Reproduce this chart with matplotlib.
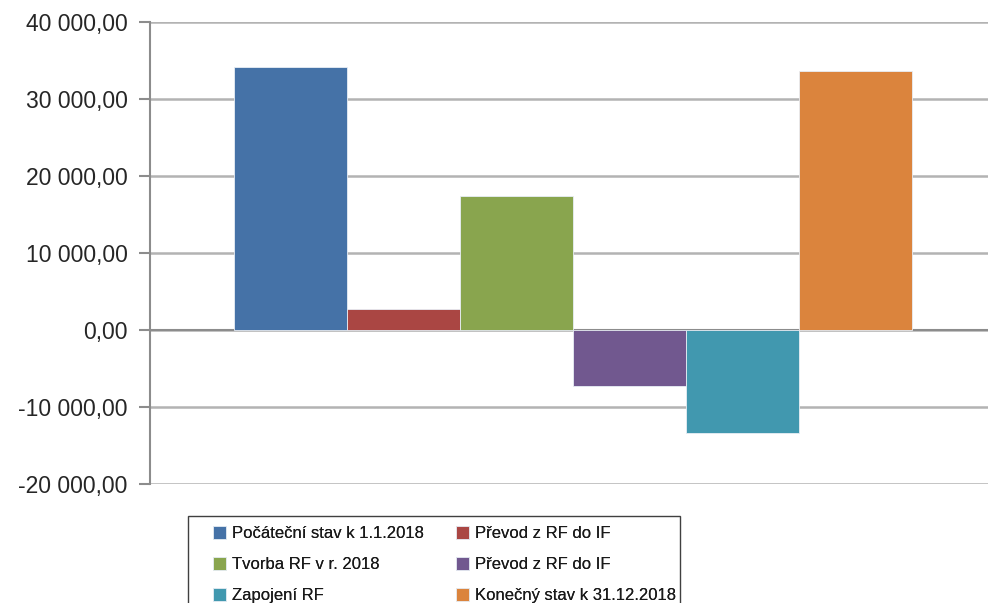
import matplotlib.pyplot as plt
from matplotlib.patches import Rectangle
from matplotlib.ticker import FuncFormatter

# data
series_names = [
    'Počáteční stav k 1.1.2018',
    'Převod z RF do IF',
    'Tvorba RF v r. 2018',
    'Převod z RF do IF',
    'Zapojení RF',
    'Konečný stav k 31.12.2018',
]
values = [34200, 2750, 17350, -7300, -13350, 33650]
colors = ['#4572A7', '#AA4643', '#89A54E', '#71588F', '#4198AF', '#DB843D']
y_ticks = [-20000, -10000, 0, 10000, 20000, 30000, 40000]

plt.rcParams['font.family'] = ['Liberation Sans', 'DejaVu Sans']

W, H = 988, 603
fig = plt.figure(figsize=(W / 100, H / 100), dpi=100)
ax = fig.add_axes([150 / W, 1 - 484 / H, 1 - 150 / W, (484 - 22) / H])

for i, (v, c) in enumerate(zip(values, colors)):
    ax.bar(i, v, width=1.0, color=c, edgecolor='#E8EEF5', linewidth=0.6,
           label=series_names[i], zorder=3)

ax.set_ylim(-20000, 40000)
ax.set_xlim(-1.246, 6.175)
ax.set_yticks(y_ticks)


def fmt(v, pos):
    s = f'{abs(v):,.2f}'.replace(',', ' ').replace('.', ',')
    return ('-' if v < 0 else '') + s


ax.yaxis.set_major_formatter(FuncFormatter(fmt))
ax.grid(axis='y', color='#B3B3B3', linewidth=1.8, zorder=0)
ax.axhline(0, color='#8C8C8C', linewidth=1.5, zorder=2)
ax.set_xticks([])
for side in ['top', 'right', 'bottom']:
    ax.spines[side].set_visible(False)
ax.spines['left'].set_color('#8C8C8C')
ax.spines['left'].set_linewidth(1.5)
ax.tick_params(axis='y', length=8, width=1.5, color='#8C8C8C',
               labelsize=16.5, pad=8, labelcolor='#262626')

# legend frame, cut by the bottom edge like in the original
fig.patches.append(Rectangle((188 / W, -0.05), (680 - 188) / W, 0.05 + 1 - 516 / H,
                             transform=fig.transFigure, fill=False,
                             edgecolor='#404040', linewidth=1.0))

handles, labels = ax.get_legend_handles_labels()
for col, x0 in [([0, 2, 4], 213), ([1, 3, 5], 456)]:
    leg = fig.legend([handles[i] for i in col], [labels[i] for i in col],
                     ncol=1, loc='upper left',
                     bbox_to_anchor=(x0 / W, 1 - 526 / H),
                     fontsize=12, frameon=False, handlelength=0.8,
                     handleheight=0.8, handletextpad=0.35,
                     labelspacing=0.95, borderpad=0, borderaxespad=0)
    for t in leg.get_texts():
        t.set_color('#1A1A1A')
    fig.add_artist(leg)

fig.savefig('out.png', dpi=100)
